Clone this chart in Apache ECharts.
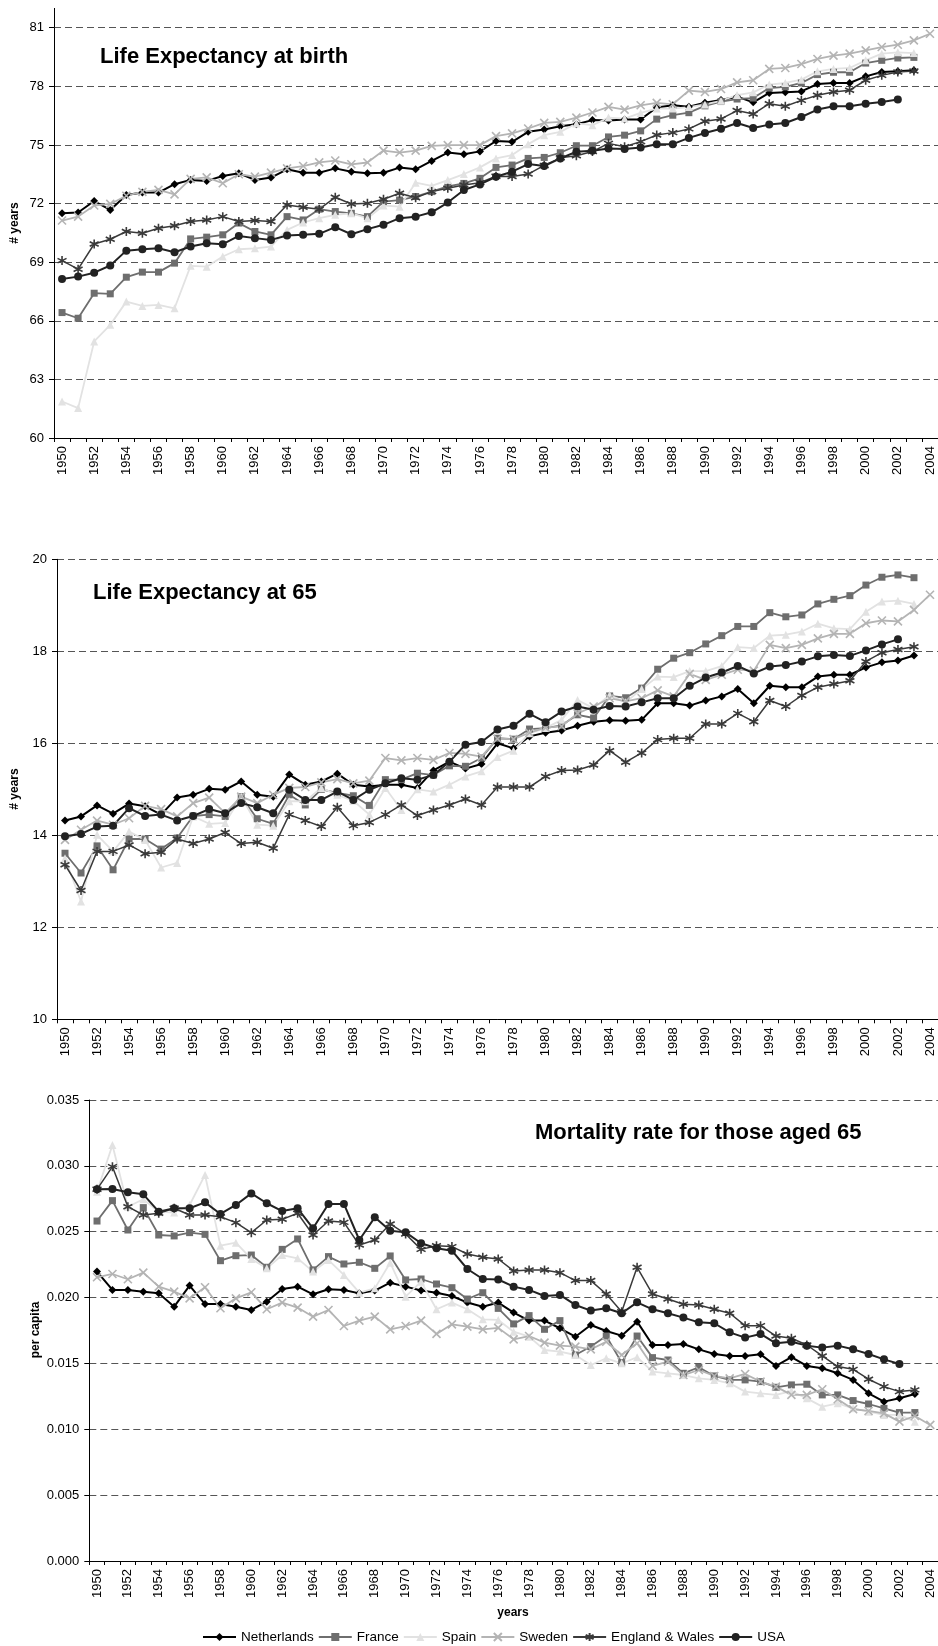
<!DOCTYPE html>
<html>
<head>
<meta charset="utf-8">
<script src="https://cdn.jsdelivr.net/npm/echarts@6/dist/echarts.min.js"></script>
<style>
html,body{margin:0;padding:0;background:#fff;}
#chart{width:938px;height:1646px;}
</style>
</head>
<body>
<div id="chart"></div>
<script>
// ---------- categories ----------
const years = ['1950','1951','1952','1953','1954','1955','1956','1957','1958','1959',
'1960','1961','1962','1963','1964','1965','1966','1967','1968','1969',
'1970','1971','1972','1973','1974','1975','1976','1977','1978','1979',
'1980','1981','1982','1983','1984','1985','1986','1987','1988','1989',
'1990','1991','1992','1993','1994','1995','1996','1997','1998','1999',
'2000','2001','2002','2003','2004'];

const countries = ['Netherlands','France','Spain','Sweden','England & Wales','USA'];

// ---------- Panel 1: life expectancy at birth ----------
const birthNetherlands = [71.5,71.54,72.13,71.67,72.44,72.56,72.56,72.99,73.21,73.16,
73.41,73.55,73.21,73.33,73.75,73.58,73.58,73.8,73.63,73.55,
73.58,73.84,73.75,74.18,74.61,74.52,74.67,75.2,75.16,75.67,
75.79,75.96,76.06,76.27,76.25,76.3,76.3,76.92,77.03,76.96,
77.16,77.3,77.47,77.18,77.66,77.69,77.74,78.12,78.17,78.17,
78.51,78.73,78.77,78.82,null];
const birthFrance = [66.42,66.13,67.41,67.38,68.23,68.49,68.49,68.95,70.19,70.28,
70.4,71.0,70.57,70.4,71.33,71.16,71.71,71.59,71.5,71.33,
72.1,72.18,72.36,72.61,72.88,73.03,73.29,73.85,73.97,74.31,
74.36,74.6,74.96,74.96,75.41,75.5,75.72,76.32,76.52,76.65,
77.0,77.22,77.35,77.4,77.91,77.97,78.17,78.6,78.72,78.72,
79.19,79.33,79.45,79.48,null];
const birthSpain = [61.87,61.53,64.94,65.79,66.98,66.76,66.81,66.64,68.81,68.77,
69.29,69.66,69.71,69.8,70.65,71.03,71.25,71.42,71.5,71.25,
71.9,71.84,73.07,72.9,73.2,73.51,73.85,74.31,74.48,75.04,
75.5,75.67,76.1,76.01,76.4,76.35,76.64,76.86,76.86,76.94,
77.07,77.26,77.55,77.69,78.09,78.17,78.34,78.77,78.89,78.94,
79.33,79.67,79.74,79.7,null];
const birthSweden = [71.13,71.33,71.9,71.98,72.4,72.6,72.7,72.47,73.26,73.34,
73.04,73.5,73.38,73.58,73.8,73.92,74.11,74.2,74.01,74.1,
74.71,74.61,74.71,74.95,74.99,74.99,74.99,75.45,75.59,75.84,
76.13,76.18,76.4,76.66,76.95,76.81,77.03,77.15,77.08,77.78,
77.71,77.86,78.2,78.31,78.89,78.94,79.14,79.4,79.57,79.67,
79.84,80.01,80.13,80.35,80.69];
const birthEnglandWales = [69.08,68.64,69.93,70.17,70.57,70.48,70.74,70.86,71.08,71.16,
71.33,71.08,71.13,71.08,71.93,71.81,71.71,72.32,71.98,72.01,
72.22,72.53,72.3,72.61,72.78,72.95,73.07,73.4,73.38,73.51,
73.95,74.34,74.45,74.66,75.08,74.91,75.17,75.51,75.63,75.82,
76.21,76.33,76.76,76.58,77.11,76.98,77.28,77.54,77.71,77.8,
78.31,78.56,78.73,78.78,null];
const birthUSA = [68.14,68.26,68.46,68.83,69.59,69.66,69.71,69.51,69.8,69.97,
69.92,70.34,70.23,70.14,70.36,70.4,70.45,70.79,70.43,70.69,
70.91,71.25,71.33,71.55,72.05,72.69,72.98,73.37,73.63,74.02,
73.92,74.31,74.65,74.7,74.82,74.79,74.87,75.04,75.04,75.36,
75.61,75.83,76.12,75.87,76.04,76.12,76.43,76.81,76.98,76.98,
77.11,77.2,77.32,null,null];

// ---------- Panel 2: life expectancy at 65 ----------
const at65Netherlands = [14.32,14.41,14.65,14.47,14.69,14.63,14.45,14.82,14.88,15.01,
14.99,15.17,14.88,14.84,15.32,15.1,15.17,15.34,15.1,15.06,
15.1,15.1,15.03,15.41,15.6,15.45,15.55,16.0,15.89,16.15,
16.23,16.28,16.38,16.47,16.5,16.49,16.51,16.87,16.87,16.82,
16.93,17.02,17.18,16.87,17.25,17.22,17.22,17.45,17.49,17.49,
17.65,17.76,17.8,17.91,null];
const at65France = [13.61,13.18,13.77,13.25,13.92,13.92,13.7,13.94,14.42,14.45,
14.41,14.84,14.36,14.25,14.88,14.66,15.0,14.92,14.86,14.65,
15.21,15.21,15.35,15.31,15.51,15.5,15.68,16.11,16.09,16.31,
16.33,16.39,16.62,16.55,17.03,16.99,17.2,17.61,17.85,17.97,
18.16,18.34,18.54,18.54,18.84,18.75,18.79,19.03,19.13,19.21,
19.44,19.61,19.66,19.6,null];
const at65Spain = [13.5,12.56,14.01,13.65,14.08,13.9,13.3,13.4,14.41,14.25,
14.27,14.84,14.23,14.21,14.74,14.74,15.03,14.88,14.75,14.45,
15.03,14.55,15.0,14.95,15.1,15.28,15.39,15.7,15.84,16.22,
16.33,16.51,16.94,16.76,17.05,16.89,17.18,17.45,17.44,17.57,
17.57,17.68,18.09,18.07,18.34,18.36,18.43,18.6,18.5,18.48,
18.86,19.08,19.1,19.03,null];
const at65Sweden = [13.9,14.12,14.32,14.23,14.37,14.64,14.57,14.41,14.7,14.82,
14.48,14.84,14.7,14.88,15.03,15.05,15.15,15.22,15.13,15.19,
15.68,15.63,15.68,15.64,15.79,15.77,15.71,16.1,16.09,16.23,
16.34,16.37,16.65,16.8,16.98,16.91,16.98,17.15,17.02,17.51,
17.38,17.49,17.6,17.58,18.14,18.07,18.14,18.28,18.38,18.38,
18.61,18.67,18.65,18.9,19.23];
const at65EnglandWales = [13.36,12.8,13.65,13.65,13.79,13.6,13.63,13.92,13.82,13.92,
14.06,13.82,13.85,13.72,14.45,14.32,14.19,14.61,14.21,14.28,
14.45,14.66,14.43,14.55,14.66,14.79,14.66,15.05,15.05,15.05,
15.28,15.41,15.42,15.53,15.84,15.59,15.79,16.08,16.11,16.11,
16.42,16.42,16.65,16.47,16.93,16.8,17.04,17.22,17.29,17.36,
17.78,17.97,18.04,18.1,null];
const at65USA = [13.98,14.03,14.19,14.21,14.59,14.42,14.45,14.32,14.42,14.57,
14.48,14.7,14.61,14.48,14.99,14.77,14.77,14.95,14.77,14.99,
15.13,15.24,15.21,15.31,15.6,15.97,16.03,16.3,16.38,16.64,
16.46,16.69,16.8,16.73,16.81,16.8,16.89,16.98,16.98,17.25,
17.43,17.54,17.68,17.52,17.67,17.7,17.78,17.89,17.92,17.9,
18.02,18.15,18.26,null,null];

// ---------- Panel 3: mortality rate aged 65 (per capita) ----------
const mortNetherlands = [0.02197,0.02058,0.02058,0.02045,0.02032,0.01931,0.02091,0.01951,0.01951,0.01931,
0.01906,0.01969,0.02065,0.02083,0.02025,0.02063,0.02058,0.02032,0.02053,0.02113,
0.02083,0.02053,0.02037,0.02012,0.01962,0.01931,0.01962,0.01886,0.01825,0.01825,
0.01767,0.01703,0.01792,0.01746,0.01711,0.01817,0.0164,0.0164,0.01648,0.01607,
0.01572,0.01557,0.01557,0.01569,0.01481,0.01547,0.01481,0.01463,0.01425,0.01375,
0.01273,0.0121,0.01235,0.01268,null];
const mortFrance = [0.02581,0.02736,0.02513,0.02683,0.02475,0.02468,0.02493,0.0248,0.0228,0.02318,
0.02323,0.0223,0.02366,0.02445,0.0221,0.02311,0.02255,0.02268,0.02222,0.02316,
0.02134,0.02141,0.02103,0.02075,0.01989,0.02037,0.01918,0.018,0.01863,0.01759,
0.01825,0.01564,0.01628,0.01708,0.01506,0.01708,0.01544,0.01526,0.01425,0.01471,
0.01405,0.01375,0.01375,0.01362,0.01319,0.01337,0.01342,0.01261,0.01261,0.01218,
0.01192,0.01159,0.01127,0.01127,null];
const mortSpain = [0.02804,0.03158,0.0269,0.02746,0.02652,0.02645,0.02703,0.02931,0.02394,0.02417,
0.02293,0.02222,0.02323,0.02298,0.02197,0.02285,0.02172,0.02037,0.0207,0.02265,
0.02007,0.02121,0.01911,0.01962,0.01911,0.01835,0.0183,0.01741,0.01703,0.01602,
0.0159,0.01564,0.01488,0.01539,0.01501,0.01547,0.01438,0.01425,0.01412,0.01387,
0.01375,0.01349,0.01286,0.01273,0.01261,0.0129,0.01235,0.01172,0.01197,0.01159,
0.01134,0.01109,0.01109,0.01058,null];
const mortSweden = [0.02154,0.02179,0.02139,0.02189,0.02083,0.02045,0.01994,0.02078,0.01919,0.01994,
0.0204,0.01911,0.01962,0.01924,0.01855,0.01906,0.01784,0.01825,0.01855,0.01759,
0.01784,0.01825,0.01724,0.01797,0.01779,0.01759,0.0177,0.01683,0.01708,0.01658,
0.01635,0.01628,0.01607,0.01665,0.01564,0.01653,0.01481,0.01514,0.01412,0.0145,
0.01405,0.01387,0.0142,0.01362,0.01324,0.01261,0.01261,0.01304,0.01228,0.01152,
0.01139,0.01121,0.01058,0.01101,0.01033];
const mortEnglandWales = [0.02822,0.02994,0.0269,0.02627,0.0264,0.02678,0.02627,0.02627,0.02614,0.02569,
0.02493,0.02589,0.02594,0.0264,0.02475,0.02581,0.02571,0.02399,0.02437,0.02559,
0.02483,0.02366,0.02394,0.02387,0.02331,0.02306,0.02293,0.02202,0.0221,0.0221,
0.02189,0.02129,0.02129,0.02027,0.01893,0.0223,0.02027,0.01989,0.01949,0.01944,
0.01911,0.01881,0.01787,0.01787,0.01708,0.01691,0.0164,0.01557,0.01476,0.01455,
0.0138,0.01324,0.01286,0.01299,null];
const mortUSA = [0.02822,0.02824,0.02799,0.02784,0.02652,0.02678,0.02678,0.02723,0.02635,0.02703,
0.02791,0.02716,0.02657,0.02678,0.02526,0.02711,0.02711,0.02437,0.02609,0.02508,
0.02495,0.02412,0.02374,0.02356,0.02217,0.02141,0.02137,0.02083,0.02058,0.02012,
0.0202,0.01944,0.01901,0.01919,0.01881,0.01964,0.01911,0.01881,0.01848,0.01812,
0.01805,0.01736,0.01696,0.01724,0.01653,0.01665,0.01635,0.0162,0.01635,0.01607,
0.01572,0.01531,0.01496,null,null];

// ---------- styling ----------
const FONT = "'Liberation Sans', Arial, Helvetica, sans-serif";
const SYM_X = 'path://M0,0L10,10M10,0L0,10';
const SYM_AST = 'path://M5,0L5,10M0.67,2.5L9.33,7.5M0.67,7.5L9.33,2.5';
const styles = {
  'Netherlands':     {symbol:'diamond',  size:8, color:'#000000', lw:2,   stroke:false},
  'France':          {symbol:'rect',     size:7, color:'#6e6e6e', lw:1.8, stroke:false},
  'Spain':           {symbol:'triangle', size:8, color:'#e2e2e2', lw:1.8, stroke:false},
  'Sweden':          {symbol:SYM_X,      size:8, color:'#b4b4b4', lw:1.8, stroke:true},
  'England & Wales': {symbol:SYM_AST,    size:9, color:'#3a3a3a', lw:1.5, stroke:true},
  'USA':             {symbol:'circle',   size:8, color:'#222222', lw:2,   stroke:false}
};

const panels = [
  [birthNetherlands, birthFrance, birthSpain, birthSweden, birthEnglandWales, birthUSA],
  [at65Netherlands, at65France, at65Spain, at65Sweden, at65EnglandWales, at65USA],
  [mortNetherlands, mortFrance, mortSpain, mortSweden, mortEnglandWales, mortUSA]
];

const series = [];
panels.forEach((arrs, pi) => {
  arrs.forEach((arr, ci) => {
    const name = countries[ci];
    const s = styles[name];
    series.push({
      type:'line', name:name, xAxisIndex:pi, yAxisIndex:pi, data:arr,
      symbol:s.symbol, symbolSize:s.size, showSymbol:true,
      lineStyle:{color:s.color, width:s.lw},
      itemStyle: s.stroke ? {color:s.color, borderColor:s.color, borderWidth:1.6}
                          : {color:s.color, borderWidth:0},
      emphasis:{disabled:true}, silent:true, animation:false, connectNulls:false
    });
  });
});

const splitLine = {show:true, lineStyle:{color:'#555', width:1, type:[7,4]}};
const axisLabelY = {color:'#000', fontSize:13, fontFamily:FONT, margin:10};
function xAxis(gi){
  return {type:'category', gridIndex:gi, data:years, boundaryGap:true,
    axisLine:{show:true, lineStyle:{color:'#000', width:1}},
    axisTick:{show:true, interval:0, length:4, lineStyle:{color:'#000'}},
    axisLabel:{interval:1, rotate:90, color:'#000', fontSize:13, fontFamily:FONT, margin:8},
    splitLine:{show:false}};
}
function yAxis(gi, min, max, interval, fmt){
  const a = {type:'value', gridIndex:gi, min:min, max:max, interval:interval,
    axisLine:{show:true, lineStyle:{color:'#000', width:1}},
    axisTick:{show:true, length:5, lineStyle:{color:'#000'}},
    axisLabel:Object.assign({}, axisLabelY),
    splitLine:splitLine};
  if (fmt) a.axisLabel.formatter = fmt;
  return a;
}

const titleStyle = (t, x, y) => ({type:'text', x:x, y:y, silent:true,
  style:{text:t, fill:'#000', font:"bold 22px " + FONT, textAlign:'left', textVerticalAlign:'middle', align:'left', verticalAlign:'middle'}});
const nameStyle = (t, x, y) => ({type:'text', x:x, y:y, rotation:Math.PI/2, silent:true,
  style:{text:t, fill:'#000', font:"bold 12px " + FONT, textAlign:'center', textVerticalAlign:'middle', align:'center', verticalAlign:'middle'}});

const option = {
  animation:false,
  backgroundColor:'#ffffff',
  grid:[
    {left:54, top:27.7, right:0, height:410.3},
    {left:57, top:559.3, right:0, height:460},
    {left:89.3, top:1100, right:0, height:461}
  ],
  xAxis:[xAxis(0), xAxis(1), xAxis(2)],
  yAxis:[
    yAxis(0, 60, 81, 3),
    yAxis(1, 10, 20, 2),
    yAxis(2, 0, 0.035, 0.005, v => v.toFixed(3))
  ],
  legend:{
    data:countries, left:197, top:1625, itemWidth:33, itemHeight:10, itemGap:4,
    textStyle:{color:'#000', fontSize:13.5, fontFamily:FONT}, selectedMode:false
  },
  graphic:[
    {type:'line', shape:{x1:54.5, y1:8, x2:54.5, y2:28}, style:{stroke:'#000', lineWidth:1}, silent:true},
    titleStyle('Life Expectancy at birth', 100, 56.5),
    titleStyle('Life Expectancy at 65', 93, 593),
    titleStyle('Mortality rate for those aged 65', 535, 1133),
    nameStyle('# years', 15, 223),
    nameStyle('# years', 15, 789),
    nameStyle('per capita', 36, 1330),
    {type:'text', x:513, y:1613, silent:true,
     style:{text:'years', fill:'#000', font:"bold 12px " + FONT, textAlign:'center', textVerticalAlign:'middle', align:'center', verticalAlign:'middle'}}
  ],
  series:series
};

const chart = echarts.init(document.getElementById('chart'), null, {renderer:'canvas'});
chart.setOption(option);
</script>
</body>
</html>
